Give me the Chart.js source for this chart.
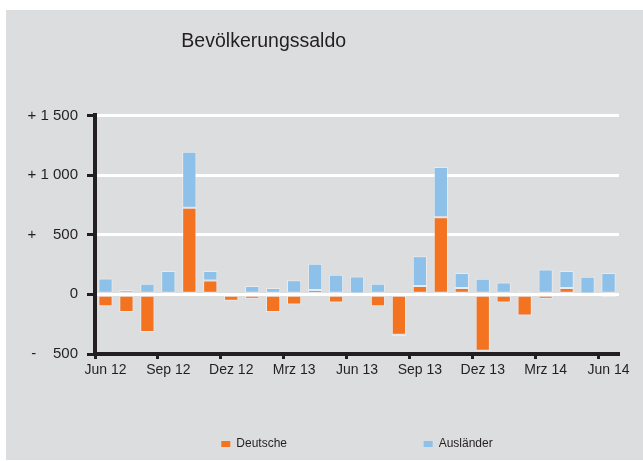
<!DOCTYPE html>
<html>
<head>
<meta charset="utf-8">
<script src="https://cdn.jsdelivr.net/npm/chart.js@4/dist/chart.umd.min.js"></script>
<style>
  html, body { margin: 0; padding: 0; background: #fff; }
  #wrap { position: absolute; left: 6px; top: 10px; width: 637px; height: 450px; background: #dcdddf; }
</style>
</head>
<body>
<div id="wrap"><canvas id="saldo" width="637" height="450"></canvas></div>
<script>
const months = ['Jun 12', 'Jul 12', 'Aug 12', 'Sep 12', 'Okt 12', 'Nov 12', 'Dez 12',
  'Jan 13', 'Feb 13', 'Mrz 13', 'Apr 13', 'Mai 13', 'Jun 13', 'Jul 13', 'Aug 13',
  'Sep 13', 'Okt 13', 'Nov 13', 'Dez 13', 'Jan 14', 'Feb 14', 'Mrz 14', 'Apr 14',
  'Mai 14', 'Jun 14'];
const deutsche = [-99, -147, -316, 0, 726, 116, -54, -37, -147, -85, 37, -68, 8,
  -99, -339, 71, 647, 54, -472, -68, -178, -37, 54, 8, -23];
const auslaender = [133, 37, 88, 195, 469, 79, 8, 71, 54, 119, 220, 164, 142,
  88, -10, 248, 421, 124, 130, 99, 23, 209, 141, 139, 178];
const yTickLabels = { '1500': '+ 1 500', '1000': '+ 1 000', '500': '+ \u2007 500', '0': '0', '-500': '- \u2007 500' };

const ink = '#231f20';
const font = 'Liberation Sans, Arial, sans-serif';

(() => {
  const canvas = document.getElementById('saldo');

  new Chart(canvas, {
    type: 'bar',
    data: {
      labels: months,
      datasets: [{
        label: 'Deutsche',
        data: deutsche,
        backgroundColor: '#f47321',
        borderColor: 'rgba(255,255,255,0.4)',
        borderWidth: 1,
        borderSkipped: false,
        categoryPercentage: 1,
        barPercentage: 0.68
      }, {
        label: 'Ausländer',
        data: auslaender,
        backgroundColor: '#8dc1e9',
        borderColor: 'rgba(255,255,255,0.4)',
        borderWidth: 1,
        borderSkipped: false,
        categoryPercentage: 1,
        barPercentage: 0.68
      }]
    },
    options: {
      responsive: false,
      animation: false,
      layout: { padding: { left: 0, right: 24, top: 0, bottom: 0 } },
      plugins: {
        tooltip: { enabled: false },
        title: {
          display: true,
          text: 'Bevölkerungssaldo' + '\u2003'.repeat(5),
          color: ink,
          font: { family: font, size: 19.5, weight: 'normal' },
          padding: { top: 20, bottom: 62 }
        },
        legend: {
          position: 'bottom',
          fullSize: false,
          labels: {
            color: ink,
            font: { family: font, size: 12 },
            boxWidth: 9,
            boxHeight: 6,
            padding: 10,
            generateLabels: (chart) => {
              const items = Chart.defaults.plugins.legend.labels.generateLabels(chart);
              items.forEach((it, i) => {
                it.lineWidth = 0;
                if (i === 0) it.text = it.text + '\u2003'.repeat(10) + '  ';
              });
              return items;
            }
          }
        }
      },
      scales: {
        x: {
          stacked: true,
          afterFit: (scale) => { scale.height = 74; },
          border: { color: ink, width: 4 },
          grid: {
            offset: true,
            drawOnChartArea: false,
            tickLength: 5,
            tickWidth: 3,
            tickColor: (ctx) => (ctx.index % 3 === 0 ? ink : 'rgba(0,0,0,0)')
          },
          ticks: {
            autoSkip: false,
            maxRotation: 0,
            padding: 3,
            color: ink,
            font: { family: font, size: 14 },
            callback: (value, index) => (index % 3 === 0 ? months[index] : '')
          }
        },
        y: {
          stacked: true,
          min: -500,
          max: 1500,
          afterFit: (scale) => { scale.width = 89; },
          border: { color: ink, width: 4 },
          grid: {
            color: (ctx) => (ctx.tick && ctx.tick.value === -500 ? 'rgba(0,0,0,0)' : '#ffffff'),
            lineWidth: 3,
            tickLength: 8,
            tickWidth: 3,
            tickColor: ink
          },
          ticks: {
            stepSize: 500,
            padding: 9,
            color: ink,
            font: { family: font, size: 15 },
            callback: (value) => yTickLabels[String(value)]
          }
        }
      }
    }
  });
})();
</script>
</body>
</html>
